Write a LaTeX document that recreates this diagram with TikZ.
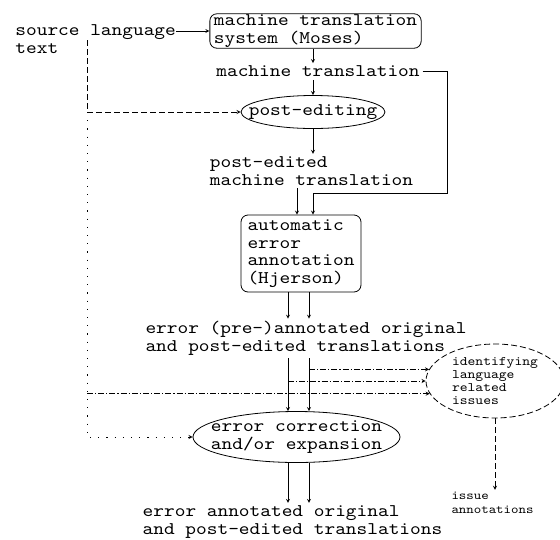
\documentclass[tikz,border=0pt]{standalone}
\usepackage{fontspec}
\setmainfont[FakeStretch=1.145]{lmmono10-regular.otf}
\usetikzlibrary{shapes.geometric}

\newcommand{\bigtxt}{\fontsize{17.8}{17.5}\selectfont}
\newcommand{\smalltxt}{\fontsize{13}{13}\selectfont}

\begin{document}
\begin{tikzpicture}[>=stealth, x=1pt, y=-1pt, line width=0.8pt,
    txt/.style={font=\bigtxt, align=left, inner sep=2.5pt},
    tool/.style={txt, draw, rounded corners=7pt},
    oval/.style={ellipse, draw, inner sep=-15pt},
    edgedash/.style={dash pattern=on 6pt off 3pt},
    edgedot/.style={dash pattern=on 1.2pt off 7pt},
    edgedashdot/.style={dash pattern=on 6pt off 2pt on 1.2pt off 2pt}]
  \useasboundingbox (0,0) rectangle (560,539);

  % columns and bends
  \coordinate (fork) at (87,40);
  \coordinate (bend) at (447,193);
  \coordinate (colA) at (313,0);
  \coordinate (colB) at (297,0);
  \coordinate (colC) at (288,0);
  \coordinate (colD) at (309,0);

  \node[txt, anchor=west, inner sep=0pt] (src) at (15,39) {source language\\text};
  \node[tool, minimum width=211pt, minimum height=34pt, inner ysep=1pt, inner xsep=4pt] (mts) at (315.5,31) {machine translation\\system (Moses)};
  \node[txt] (mt) at (318,71.5) {machine translation};
  \node[oval, font=\bigtxt, minimum width=144pt, minimum height=33pt] (pe) at (313,112) {post-editing};
  \node[txt] (ped) at (311.5,171) {post-edited\\machine translation};
  \node[tool, minimum width=120pt, minimum height=77pt, inner xsep=6pt] (auto) at (301,253.5) {automatic\\error\\annotation\\(Hjerson)};
  \node[txt] (epre) at (306,338.5) {error (pre-)annotated original\\and post-edited translations};
  \node[oval, font=\bigtxt, align=left, minimum width=207pt, minimum height=51pt] (ec) at (296.5,437) {error correction\\and/or expansion};
  \node[oval, edgedash, font=\smalltxt, align=left, minimum width=138pt, minimum height=74pt] (ident) at (495,381) {identifying\\language\\related\\issues};
  \node[font=\fontsize{12.4}{14}\selectfont, align=left, inner sep=2pt] (issue) at (492.5,503) {issue\\annotations};
  \node[txt] (eout) at (292.5,522) {error annotated original\\and post-edited translations};

  \draw[->] (mts.west -| src.east) -- (mts.west);
  \draw[->] (mts.south -| colA) -- (mt.north -| colA);
  \draw[->] (mt.south -| colA) -- (pe.north -| colA);
  \draw[->] (pe.south) -- (ped.north -| pe.south);
  \draw[->] (mt.east) -| (bend) -| (auto.north -| colA);
  \draw[->] (ped.south -| colB) -- (auto.north -| colB);
  \draw[->] (auto.south -| colC) -- (epre.north -| colC);
  \draw[->] (auto.south -| colD) -- (epre.north -| colD);
  \draw[->] (epre.south -| colC) -- (ec.north -| colC);
  \draw[->] (epre.south -| colD) -- (ec.north -| colD);
  \draw[->] (ec.south -| colC) -- (eout.north -| colC);
  \draw[->] (ec.south -| colD) -- (eout.north -| colD);

  \draw[edgedash, ->] (fork) |- (pe.west);
  \draw[edgedot, ->] (fork |- pe.west) |- (ec.west);
  \draw[edgedashdot, ->] (ident.170 -| colD) -- (ident.170);
  \draw[edgedashdot, ->] (ident.west -| colC) -- (ident.west);
  \draw[edgedashdot, ->] (ident.191 -| fork) -- (ident.191);
  \draw[edgedash, ->] (ident.south) -- (ident.south |- issue.north);
\end{tikzpicture}
\end{document}
